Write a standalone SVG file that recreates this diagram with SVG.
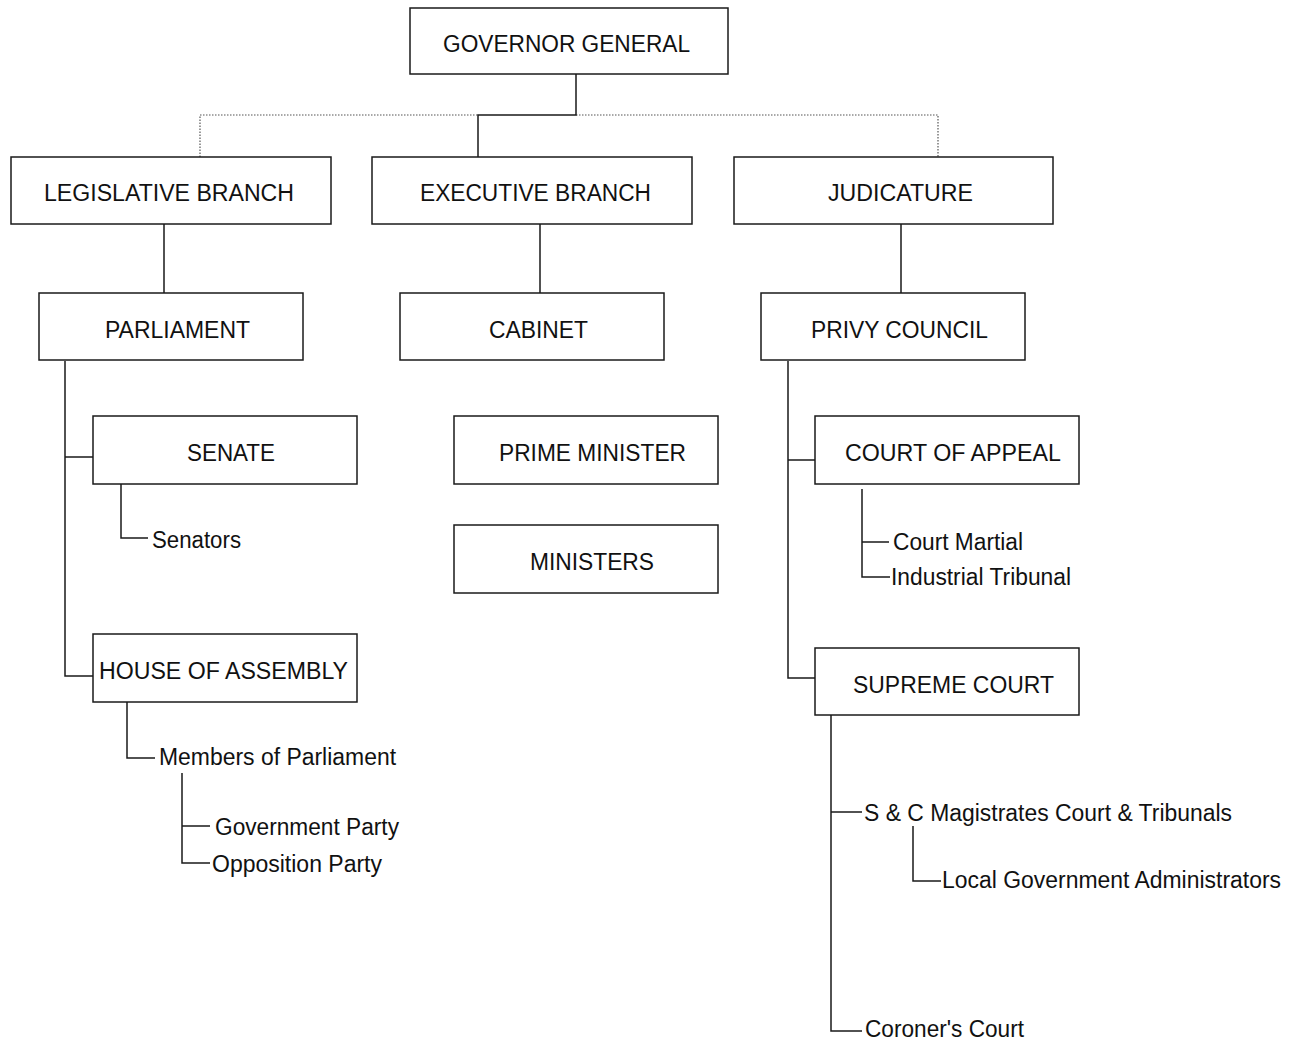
<svg xmlns="http://www.w3.org/2000/svg" width="1294" height="1041" viewBox="0 0 1294 1041">
<style>
.box{fill:#fff;stroke:#1a1a1a;stroke-width:1.5}
.ln{fill:none;stroke:#1a1a1a;stroke-width:1.5}
.dot{fill:none;stroke:#555;stroke-width:1.2;stroke-dasharray:1.5 1.5}
text{font-family:"Liberation Sans",Arial,sans-serif;font-size:23px;fill:#111}
</style>
<rect width="1294" height="1041" fill="#fff"/>
<g id="connectors">
<path class="dot" d="M200 157V115H478M576 115H938V157"/>
<path class="ln" d="M576 74V115H478V157"/>
<path class="ln" d="M164 224V293M540 224V293M901 224V293"/>
<path class="ln" d="M65 361V676H93M65 457H93"/>
<path class="ln" d="M121 484V538H148"/>
<path class="ln" d="M127 702V758H155"/>
<path class="ln" d="M182 773V863H210M182 826H210"/>
<path class="ln" d="M788 361V678H815M788 460H815"/>
<path class="ln" d="M862 489V577H890M862 542H889"/>
<path class="ln" d="M831 715V1031H862M831 812H862"/>
<path class="ln" d="M913 826V881H941"/>
</g>
<g id="governor-general"><rect class="box" x="410" y="8" width="318" height="66"/><text x="443" y="52" textLength="247" lengthAdjust="spacingAndGlyphs">GOVERNOR GENERAL</text></g>
<g id="legislative-branch"><rect class="box" x="11" y="157" width="320" height="67"/><text x="44" y="201" textLength="250" lengthAdjust="spacingAndGlyphs">LEGISLATIVE BRANCH</text></g>
<g id="executive-branch"><rect class="box" x="372" y="157" width="320" height="67"/><text x="420" y="201" textLength="231" lengthAdjust="spacingAndGlyphs">EXECUTIVE BRANCH</text></g>
<g id="judicature"><rect class="box" x="734" y="157" width="319" height="67"/><text x="828" y="201" textLength="145" lengthAdjust="spacingAndGlyphs">JUDICATURE</text></g>
<g id="parliament"><rect class="box" x="39" y="293" width="264" height="67"/><text x="105" y="338" textLength="145" lengthAdjust="spacingAndGlyphs">PARLIAMENT</text></g>
<g id="cabinet"><rect class="box" x="400" y="293" width="264" height="67"/><text x="489" y="338" textLength="99" lengthAdjust="spacingAndGlyphs">CABINET</text></g>
<g id="privy-council"><rect class="box" x="761" y="293" width="264" height="67"/><text x="811" y="338" textLength="177" lengthAdjust="spacingAndGlyphs">PRIVY COUNCIL</text></g>
<g id="senate"><rect class="box" x="93" y="416" width="264" height="68"/><text x="187" y="461" textLength="88" lengthAdjust="spacingAndGlyphs">SENATE</text></g>
<g id="prime-minister"><rect class="box" x="454" y="416" width="264" height="68"/><text x="499" y="461" textLength="187" lengthAdjust="spacingAndGlyphs">PRIME MINISTER</text></g>
<g id="ministers"><rect class="box" x="454" y="525" width="264" height="68"/><text x="530" y="570" textLength="124" lengthAdjust="spacingAndGlyphs">MINISTERS</text></g>
<g id="court-of-appeal"><rect class="box" x="815" y="416" width="264" height="68"/><text x="845" y="461" textLength="216" lengthAdjust="spacingAndGlyphs">COURT OF APPEAL</text></g>
<g id="house-of-assembly"><rect class="box" x="93" y="634" width="264" height="68"/><text x="99" y="679" textLength="249" lengthAdjust="spacingAndGlyphs">HOUSE OF ASSEMBLY</text></g>
<g id="supreme-court"><rect class="box" x="815" y="648" width="264" height="67"/><text x="853" y="693" textLength="201" lengthAdjust="spacingAndGlyphs">SUPREME COURT</text></g>
<g id="senators"><text x="152" y="548" textLength="89" lengthAdjust="spacingAndGlyphs">Senators</text></g>
<g id="members-of-parliament"><text x="159" y="765" textLength="237" lengthAdjust="spacingAndGlyphs">Members of Parliament</text></g>
<g id="government-party"><text x="215" y="835" textLength="184" lengthAdjust="spacingAndGlyphs">Government Party</text></g>
<g id="opposition-party"><text x="212" y="872" textLength="170" lengthAdjust="spacingAndGlyphs">Opposition Party</text></g>
<g id="court-martial"><text x="893" y="550" textLength="130" lengthAdjust="spacingAndGlyphs">Court Martial</text></g>
<g id="industrial-tribunal"><text x="891" y="585" textLength="180" lengthAdjust="spacingAndGlyphs">Industrial Tribunal</text></g>
<g id="magistrates"><text x="864" y="821" textLength="368" lengthAdjust="spacingAndGlyphs">S &amp; C Magistrates Court &amp; Tribunals</text></g>
<g id="local-government"><text x="942" y="888" textLength="339" lengthAdjust="spacingAndGlyphs">Local Government Administrators</text></g>
<g id="coroners-court"><text x="865" y="1037" textLength="159" lengthAdjust="spacingAndGlyphs">Coroner's Court</text></g>
</svg>
